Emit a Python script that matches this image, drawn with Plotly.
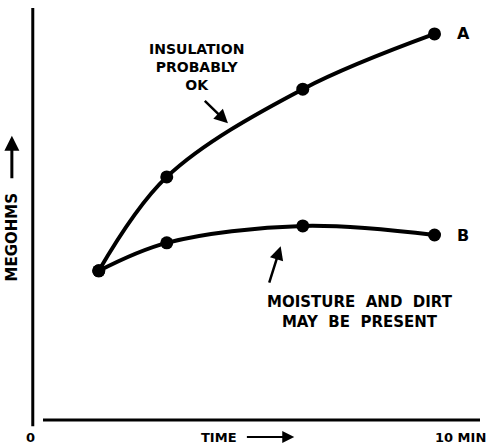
import plotly.graph_objects as go

# Insulation resistance test: megohm readings against time
time_min = [1.5, 3.1, 6.3, 9.4]
curve_a = [3.62, 5.9, 8.03, 9.37]
curve_b = [3.62, 4.3, 4.71, 4.49]
x_ticks = [0, 10]
x_ticklabels = ["0", "10 MIN"]

BOLD = "DejaVu Sans"
FONT = dict(family=BOLD, size=12, color="black")

fig = go.Figure()
for ys, name in [(curve_a, "A"), (curve_b, "B")]:
    fig.add_trace(go.Scatter(
        x=time_min, y=ys, mode="lines+markers", name=name,
        line=dict(color="black", width=4, shape="spline", smoothing=1.0),
        marker=dict(color="black", size=13),
        showlegend=False, hoverinfo="skip",
    ))
    fig.add_annotation(x=time_min[-1], y=ys[-1], text=f"<b>{name}</b>",
                       showarrow=False, xanchor="left", xshift=20,
                       font=dict(family=BOLD, size=16, color="black"))

# tick labels under the time axis
for v, t in zip(x_ticks, x_ticklabels):
    fig.add_annotation(x=v, y=0, xref="x", yref="y", text=f"<b>{t}</b>",
                       showarrow=False, yanchor="top", yshift=-8,
                       xshift=-5 if v == 0 else 0,
                       font=dict(family=BOLD, size=13, color="black"))

# axis titles
fig.add_annotation(x=4.8, y=0, text="<b>TIME</b>", showarrow=False,
                   yanchor="top", yshift=-8, xanchor="right",
                   font=dict(family=BOLD, size=13, color="black"))
fig.add_annotation(x=6.1, y=0, ax=4.95, ay=0, xref="x", yref="y",
                   axref="x", ayref="y", yshift=-17, text="",
                   showarrow=True, arrowhead=2, arrowsize=1.2, arrowwidth=2,
                   arrowcolor="black")
fig.add_annotation(xref="paper", yref="y", x=-0.052, y=4.45, text="<b>MEGOHMS</b>",
                   textangle=-90, showarrow=False, xanchor="center", yanchor="middle",
                   font=dict(family=BOLD, size=15, color="black"))
fig.add_annotation(xref="paper", yref="y", x=-0.052, y=6.9, ax=0, ay=44,
                   axref="pixel", ayref="pixel", text="", showarrow=True,
                   arrowhead=2, arrowsize=1.0, arrowwidth=3, arrowcolor="black")

# callouts
fig.add_annotation(x=3.8, y=7.9, text="<b>INSULATION<br>PROBABLY<br>OK</b>",
                   showarrow=False, align="center", yanchor="bottom",
                   font=dict(family=BOLD, size=14, color="black"))
fig.add_annotation(x=4.54, y=7.2, ax=3.96, ay=7.78, xref="x", yref="y",
                   axref="x", ayref="y", text="", showarrow=True,
                   arrowhead=2, arrowsize=1.1, arrowwidth=2.5, arrowcolor="black")
fig.add_annotation(x=7.65, y=3.12,
                   text="<b>MOISTURE\u00a0 AND\u00a0 DIRT<br>MAY\u00a0 BE\u00a0 PRESENT</b>",
                   showarrow=False, align="center", yanchor="top",
                   font=dict(family=BOLD, size=15, color="black"))
fig.add_annotation(x=5.78, y=4.22, ax=5.5, ay=3.3, xref="x", yref="y",
                   axref="x", ayref="y", text="", showarrow=True,
                   arrowhead=2, arrowsize=1.1, arrowwidth=2.5, arrowcolor="black")

# axis lines
fig.add_shape(type="line", xref="paper", yref="paper", x0=-0.005, x1=-0.005,
              y0=-0.015, y1=1.0, line=dict(color="black", width=3))
fig.add_shape(type="line", xref="paper", yref="paper", x0=0.018, x1=1.0,
              y0=0, y1=0, line=dict(color="black", width=3))

fig.update_xaxes(range=[0, 10.47], visible=False)
fig.update_yaxes(range=[0, 10.0], visible=False)
fig.update_layout(
    width=488, height=448,
    margin=dict(l=35, r=8, t=8, b=28),
    paper_bgcolor="white", plot_bgcolor="white",
    font=FONT,
)
fig.write_html("out.html")
